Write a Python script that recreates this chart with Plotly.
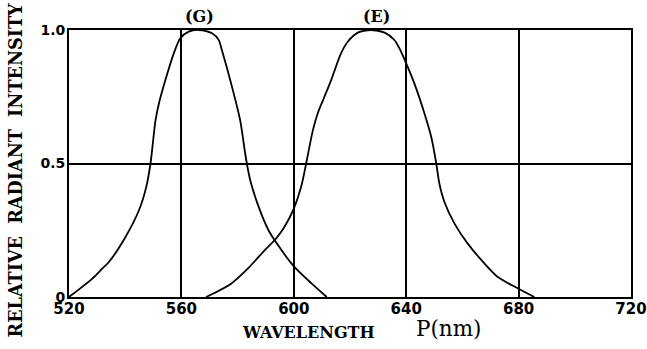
import plotly.graph_objects as go

# Data
g_wavelength = [520, 528.3, 531.8, 534.2, 540.1, 544.9, 547.5, 549.0, 550.8, 552.0, 554.3, 557.3,
                559.6, 562.6, 566.2, 570.9, 573.3, 574.4, 578.0, 580.9, 582.7, 583.3, 584.5,
                587.5, 591.0, 594.0, 600.2, 606.4, 611.7]
g_intensity = [0, 0.069, 0.106, 0.131, 0.225, 0.325, 0.4125, 0.5, 0.6625, 0.725, 0.8125, 0.9125,
               0.969, 0.994, 1.0, 0.9875, 0.962, 0.925, 0.7875, 0.6625, 0.5375, 0.5, 0.4375,
               0.3375, 0.25, 0.2, 0.1125, 0.05, 0]

e_wavelength = [568.8, 577.7, 583.6, 589.6, 593.7, 596.7, 600.0, 602.6, 604.4, 606.8, 608.5, 610.9,
                613.3, 616.8, 619.2, 622.8, 627.5, 632.3, 635.8, 637.6, 640.0, 642.9, 646.5,
                648.9, 650.7, 651.8, 653.6, 657.2, 661.9, 667.9, 672.6, 680.0, 685.6]
e_intensity = [0, 0.05, 0.106, 0.175, 0.219, 0.263, 0.331, 0.4125, 0.5, 0.625, 0.6875, 0.75,
               0.8125, 0.9125, 0.956, 0.99, 1.0, 0.99, 0.9625, 0.931, 0.875, 0.8, 0.6875,
               0.6, 0.5, 0.425, 0.356, 0.275, 0.2, 0.125, 0.075, 0.031, 0]

x_ticks = [520, 560, 600, 640, 680, 720]
x_tick_text = ["520", "560", "600", "640", "680", "720"]
y_ticks = [0, 0.5, 1.0]
y_tick_text = ["0", "0.5", "1.0"]

curve_labels = ["(G)", "(E)"]
curve_label_x = [566.4, 629.5]

W, H = 647, 349
L, R, T, B = 69.3, 16.3, 30, 51.7
PW, PH = W - L - R, H - T - B


def px_x(x):  # window pixel -> paper x
    return (x - L) / PW


def px_y(y):  # window pixel -> paper y
    return (H - B - y) / PH


fig = go.Figure()
fig.add_trace(go.Scatter(x=g_wavelength, y=g_intensity, mode="lines",
                         line=dict(color="black", width=1.8, shape="spline", smoothing=0.8),
                         hoverinfo="skip"))
fig.add_trace(go.Scatter(x=e_wavelength, y=e_intensity, mode="lines",
                         line=dict(color="black", width=1.8, shape="spline", smoothing=0.8),
                         hoverinfo="skip"))

x_tick_font = dict(family="DejaVu Sans", size=15, color="black", weight="bold")
y_tick_font = dict(family="DejaVu Sans", size=14, color="black", weight="bold")
serif_bold = dict(family="DejaVu Serif", color="black", weight="bold")

fig.update_layout(
    width=W, height=H,
    margin=dict(l=L, r=R, t=T, b=B, pad=0, autoexpand=False),
    paper_bgcolor="white", plot_bgcolor="white",
    showlegend=False,
    xaxis=dict(range=[520, 720], tickvals=x_ticks, ticktext=x_tick_text,
               showgrid=True, gridcolor="black", gridwidth=1.8,
               showline=True, linecolor="black", linewidth=1.8, mirror=True,
               ticks="", tickfont=x_tick_font, zeroline=False, fixedrange=True,
               ticklabelstandoff=-3, ticklabeloverflow="allow", automargin=False),
    yaxis=dict(range=[0, 1], tickvals=y_ticks, ticktext=y_tick_text,
               showgrid=True, gridcolor="black", gridwidth=1.8,
               showline=True, linecolor="black", linewidth=1.8, mirror=True,
               ticks="", tickfont=y_tick_font, zeroline=False, fixedrange=True,
               ticklabelstandoff=-1, ticklabeloverflow="allow", automargin=False),
)

annotations = []
for lbl, lx in zip(curve_labels, curve_label_x):
    annotations.append(dict(x=lx, y=px_y(16), xref="x", yref="paper", text=lbl, showarrow=False,
                            xanchor="center", yanchor="middle",
                            font=dict(size=16, **serif_bold)))
annotations.append(dict(x=px_x(308.5), y=px_y(333), xref="paper", yref="paper", text="WAVELENGTH",
                        showarrow=False, xanchor="center", yanchor="middle",
                        font=dict(size=16, **serif_bold)))
annotations.append(dict(x=px_x(448.5), y=px_y(329), xref="paper", yref="paper", text="P(nm)",
                        showarrow=False, xanchor="center", yanchor="middle",
                        font=dict(family="DejaVu Serif", size=21.5, color="black")))
annotations.append(dict(x=px_x(16), y=px_y(171), xref="paper", yref="paper",
                        text="RELATIVE&nbsp;&nbsp;RADIANT&nbsp;&nbsp;INTENSITY",
                        showarrow=False, textangle=-90, xanchor="center", yanchor="middle",
                        font=dict(size=17.6, **serif_bold)))
fig.update_layout(annotations=annotations)

# Remove the browser's default 8px page margin so the figure fills the window exactly.
fig.write_html("out.html", config={"displayModeBar": False},
               post_script="document.body.style.margin='0';")
